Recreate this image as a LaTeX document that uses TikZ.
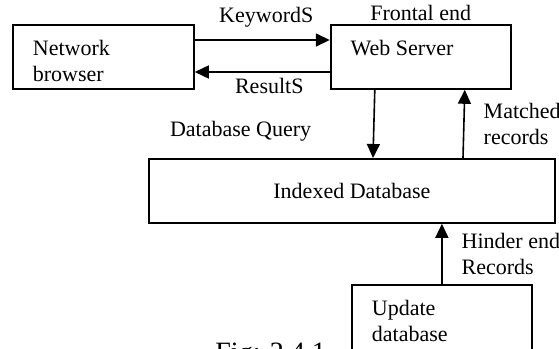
\documentclass[tikz,border=0pt]{standalone}
\usepackage{fontspec}
\setmainfont{Liberation Serif}
\usetikzlibrary{arrows.meta,positioning}

\newcommand{\boxtext}[3]{\parbox[t][#2][t]{#1}{\strut #3}}

\begin{document}
\begin{tikzpicture}
[x=0.5pt,y=-0.5pt,
font=\fontsize{11}{13}\selectfont,
box/.style={rectangle,draw=black,line width=0.9pt,inner xsep=10pt,inner ysep=6pt,anchor=north west},
bigbox/.style={rectangle,draw=black,line width=0.9pt,minimum width=203pt,minimum height=32pt,inner sep=0pt,anchor=north west},
lbl/.style={inner sep=0pt},
edge/.style={-{Triangle[length=7pt,width=6.5pt]},line width=0.8pt}]
\useasboundingbox (0,0) rectangle (559,349);
\clip (0,0) rectangle (559,349);
\node[box] (browser) at (12,24) {\boxtext{70.5pt}{20pt}{Network\\browser}};
\node[box] (server) [right=67.5pt of browser] {\boxtext{70pt}{20pt}{Web Server}};
\node[bigbox] (index) at (148,158) {Indexed Database};
\node[box] (update) at (351,284) {\boxtext{70pt}{28pt}{Update\\database}};
\node[lbl] (frontal) [above=1.5pt of server] {Frontal end};
\node[lbl,font=\fontsize{14}{16}\selectfont,anchor=base west] (fig) at (215,361) {Fig: 2.4.1};
% browser <-> server
\draw[edge] ([yshift=-8pt]browser.north east) -- ([yshift=-8pt]server.north west) node[lbl,midway,anchor=base,yshift=9pt,xshift=2pt] (keywords) {KeywordS};
\draw[edge] ([yshift=-24pt]server.north west) -- ([yshift=-24pt]browser.north east) node[lbl,midway,anchor=base,yshift=-10.5pt,xshift=3.5pt] (results) {ResultS};
% server <-> database
\draw[edge] ([xshift=22.5pt]server.south west) -- ([xshift=112.5pt]index.north west) node[lbl,midway,anchor=base east,xshift=-31pt,yshift=-6.5pt] (query) {Database Query};
\draw[edge] ([xshift=157.5pt]index.north west) -- ([xshift=67.5pt]server.south west) node[lbl,midway,anchor=west,xshift=9.5pt,align=left] (matched) {Matched\\records};
% update -> database
\draw[edge] (update.north) -- (update.north |- index.south) node[lbl,midway,anchor=west,xshift=9.5pt,align=left] (hinder) {Hinder end\\Records};
\end{tikzpicture}
\end{document}
